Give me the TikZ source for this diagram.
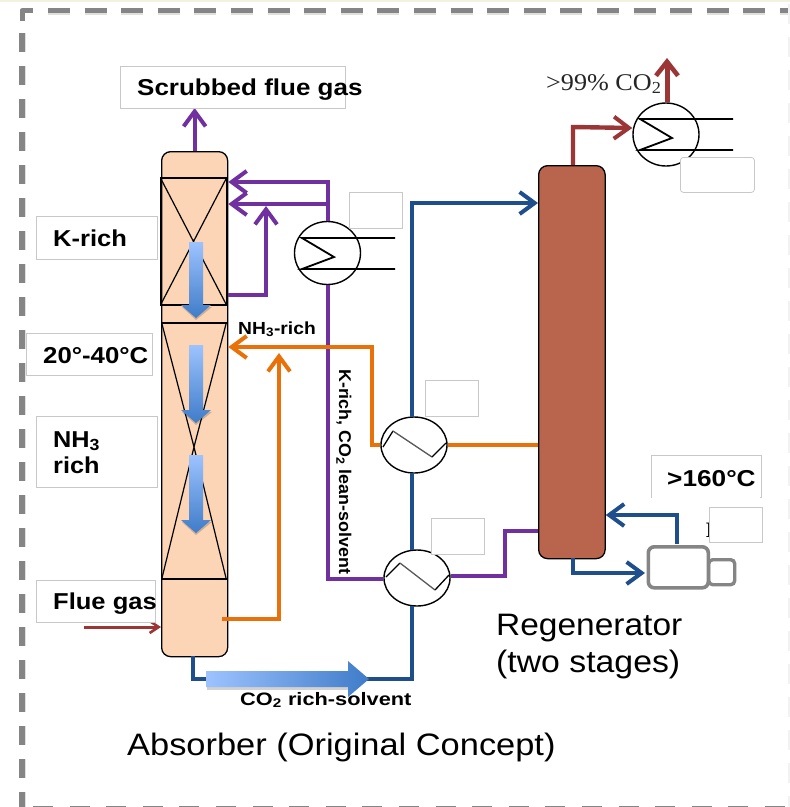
\documentclass[tikz,border=0pt]{standalone}
\usepackage{fontspec}
\setmainfont{Liberation Sans}
\newfontfamily\serifpart{Liberation Serif}
\usetikzlibrary{arrows.meta,shapes.geometric}
\definecolor{pur}{HTML}{7030A0}
\definecolor{ora}{HTML}{E8710A}
\definecolor{blu}{HTML}{1F4E8C}
\definecolor{brk}{HTML}{9C3535}
\definecolor{peach}{HTML}{FBD5B5}
\definecolor{rust}{HTML}{B9654D}
\definecolor{boxl}{HTML}{C8C8C8}
\definecolor{dashc}{HTML}{858585}
\definecolor{glight}{HTML}{9DC3FF}
\definecolor{gdark}{HTML}{3F7CC8}
\definecolor{topstrip}{HTML}{F1F2E0}
\tikzset{
 x=1pt,y=-1pt,
 barb/.style={-{Straight Barb[length=15pt,width=22pt,line width=4pt]}},
 pipe/.style={line width=#1,line join=miter},
 labelbox/.style={draw=boxl,fill=white,line width=.8pt,inner sep=0,anchor=north west},
 tower/.style={draw=black,line width=1.3pt,rounded corners=9pt,inner sep=0,anchor=north west},
 hx/.style={draw=black,fill=white,line width=1.4pt,ellipse,inner sep=0,minimum width=66pt,minimum height=#1},
 bold/.style={font=\bfseries\fontsize{23}{25}\selectfont,anchor=base west,inner sep=0},
 small/.style={font=\bfseries\fontsize{18}{20}\selectfont,inner sep=0},
 big/.style={font=\fontsize{31}{37}\selectfont,anchor=base west,inner sep=0},
 bordertop/.style={dashc,line width=5pt,dash pattern=on 22pt off 14.6pt},
 borderleft/.style={dashc,line width=6pt,dash pattern=on 19pt off 14pt},
 packing/.style={line width=1.2pt,draw=black},
}
\newcommand{\xs}[2]{\scalebox{#1}[1]{#2}}
\newcommand{\flowdown}[3]{%
 \fill[black,opacity=.18] (#1-14,#3-11) -- (#1,#3+2) -- (#1+16,#3-11) -- cycle;
 \shade[top color=glight,bottom color=gdark]
   (#1-7,#2) -- (#1+7,#2) -- (#1+7,#3-13) -- (#1+15,#3-13) -- (#1,#3) -- (#1-15,#3-13) -- (#1-7,#3-13) -- cycle;
}
\begin{document}
\begin{tikzpicture}
\useasboundingbox (0,0) rectangle (790,807);
\fill[white] (0,0) rectangle (790,807);
\fill[topstrip] (0,0) rectangle (790,2);
% border
\draw[black!12,line width=5pt,dash pattern=on 22pt off 14.6pt] (48,12.5) -- (790,12.5);
\draw[bordertop] (48,10) -- (790,10);
\draw[black!12,line width=6pt,dash pattern=on 19pt off 14pt] (23,33) -- (23,809);
\draw[borderleft] (22,33) -- (22,807);
\draw[dashc,line width=5pt,line join=round] (22,21) -- (22,10.5) -- (33,10.5);
\draw[dashc,line width=3pt,dash pattern=on 20pt off 16.6pt] (33,807) -- (790,807);
\draw[black!5,line width=2.5pt,dash pattern=on 20pt off 13pt] (789,4) -- (789,807);

% towers
\node[tower,fill=peach,minimum width=66pt,minimum height=505pt] (abs) at (161,151) {};
\node[tower,fill=rust,minimum width=66.5pt,minimum height=393pt] (reg) at (538,165) {};

% packing of absorber
\draw[packing] (160.5,178) rectangle (226.5,305);
\draw[packing] (160.5,178) -- (226.5,305) (226.5,178) -- (160.5,305);
\draw[packing] (161,323) -- (227,323) (161,579) -- (227,579);
\draw[packing] (162,324) -- (194,447) -- (162,578) (226,324) -- (194,447) -- (226,578);

% heat exchangers
\node[hx=63pt] (hxtop) at (327.5,253) {};
\node[hx=56pt] (hxmid) at (414,445) {};
\node[hx=56pt] (hxlow) at (417,578) {};
\node[hx=63pt] (cond) at (666,134.5) {};

% purple
\draw[pur,pipe=4pt,barb] (abs.north) -- ++(0,-43) coordinate (scrubtip);
\draw[pur,pipe=4pt,barb] (hxtop.north) -- (hxtop.north |- 0,182) -- (abs.east |- 0,182);
\draw[pur,pipe=4pt,barb] (hxtop.north |- 0,204) -- (abs.east |- 0,204);
\draw[pur,pipe=4pt,barb] (abs.east |- 0,295) -- (266,295) -- (266,206);
\draw[pur,pipe=4pt] (hxtop.south) -- (hxtop.south |- 0,579) -- (hxlow.west |- 0,579);
\draw[pur,pipe=4pt] (hxlow.east) ++(0,-2) -- (505,576) -- (505,531) -- (reg.west |- 0,531);

% orange
\draw[ora,pipe=4.6pt,barb] (222,619) -- (279,619) -- (279,353);
\draw[ora,pipe=4.6pt,barb] (hxmid.west) -- (372,445) -- (372,347) -- (abs.east |- 0,347);
\draw[ora,pipe=4.6pt] (hxmid.east) -- (reg.west |- hxmid.east);

% blue
\draw[blu,pipe=4.4pt] (193,656) -- (193,679) -- (412,679) -- (412,606);
\draw[blu,pipe=4.4pt] (412,550) -- (412,473);
\draw[blu,pipe=4.4pt,barb] (412,417) -- (412,203) -- (reg.west |- 0,203);
\draw[blu,pipe=4.4pt,barb] (573,558) -- (573,573) -- (645,573);
\draw[blu,pipe=4.4pt,barb] (677,544) -- (677,515) -- (reg.east |- 0,515);

% dark red
\draw[brk,pipe=4.4pt,barb] (573,165) -- (573,127) -- (cond.west |- 0,128);
\draw[brk,pipe=5pt,-{Straight Barb[length=14pt,width=22pt,line width=4.6pt]}] (cond.north) ++(1,0) -- (667,58);
\draw[brk,line width=3pt,-{Straight Barb[length=9pt,width=12pt,line width=2.6pt]}] (84,627) -- (abs.west |- 0,627);

% exchanger internals
\draw[line width=1.8pt] (733,119) -- (640,119) -- (672,138) -- (640,150) -- (733,150);
\draw[line width=1.8pt] (395,238) -- (302,238) -- (334,257) -- (302,269) -- (395,269);
\draw[line width=1.3pt,black] (383,447) -- (393,431);
\draw[line width=1.3pt,black!65] (393,431) -- (432,457);
\draw[line width=1.3pt,black] (432,457) -- (446,443);
\draw[line width=1.3pt,black] (386,577) -- (400,563);
\draw[line width=1.3pt,black!65] (400,563) -- (435,590);
\draw[line width=1.3pt,black] (435,590) -- (449,575);

% reboiler
\node[draw=dashc,fill=white,line width=3.4pt,rounded corners=4pt,minimum width=26pt,minimum height=25pt,inner sep=0,anchor=north west] (pumpb) at (707,558) {};
\node[draw=dashc,fill=white,line width=3.6pt,rounded corners=6pt,minimum width=60pt,minimum height=41pt,inner sep=0,anchor=north west] (pumpa) at (646.5,545) {};

% glyph remnant behind the box
\node[font=\serifpart\bfseries\fontsize{22}{22}\selectfont,inner sep=0] (rem) at (710,530) {I};

% label boxes
\node[labelbox,minimum width=225pt,minimum height=42pt] (bscrub) at (120,66) {};
\node[labelbox,minimum width=121pt,minimum height=43pt] (bk) at (36,216) {};
\node[labelbox,minimum width=126pt,minimum height=42pt] (btemp) at (26,333) {};
\node[labelbox,minimum width=121pt,minimum height=71pt] (bnh) at (36,416) {};
\node[labelbox,minimum width=119pt,minimum height=42pt] (bflue) at (36,580) {};
\node[labelbox,minimum width=53pt,minimum height=36pt] (e1) at (349,192) {};
\node[labelbox,minimum width=53pt,minimum height=36pt] (e2) at (425,380) {};
\node[labelbox,minimum width=53pt,minimum height=36pt] (e3) at (431,518) {};
\node[labelbox,minimum width=53pt,minimum height=35pt] (e4) at (708.5,507) {};
\node[labelbox,minimum width=110pt,minimum height=42pt] (bhot) at (651,455) {};
\fill[white] (652,496) rectangle (760,498);
\node[labelbox,rounded corners=3pt,minimum width=74pt,minimum height=35pt] (e5) at (680,157) {};

% blue flow arrows
\flowdown{196}{242}{318}
\flowdown{196}{345}{423}
\flowdown{196}{455}{533}
\fill[black,opacity=.18] (207,673) rectangle (352,690);
\shade[left color=glight,right color=gdark]
  (206,671) -- (348,671) -- (348,661) -- (369,679) -- (348,697) -- (348,687) -- (206,687) -- cycle;

% texts
\node[bold] (tscrub) at (137,95) {\xs{1.13}{Scrubbed flue gas}};
\node[bold] (tk) at (53,246) {\xs{1.11}{K-rich}};
\node[bold] (ttemp) at (43,363) {\xs{1.12}{20°-40°C}};
\node[bold] (tnh) at (53,447) {\xs{1.1}{NH\textsubscript{3}}};
\node[bold] (trich) at (53,473) {\xs{1.1}{rich}};
\node[bold] (tflue) at (53,609) {\xs{1.11}{Flue gas}};
\node[bold] (thot) at (667,486) {\xs{1.14}{>160°C}};
\node[small,anchor=base west,font=\bfseries\fontsize{17.5}{20}\selectfont] (tnhr) at (238,334) {\xs{1.1}{NH\textsubscript{3}-rich}};
\node[small,rotate=-90,anchor=base west,font=\bfseries\fontsize{17}{20}\selectfont] (tlean) at (339,369) {\xs{1.05}{K-rich, CO\textsubscript{2} lean-solvent}};
\node[small,anchor=base west] (trs) at (240,705) {\xs{1.21}{CO\textsubscript{2} rich-solvent}};
\node[big] (tabs) at (127,755) {\xs{1.11}{Absorber (Original Concept)}};
\node[big] (treg) at (496,635) {\xs{1.08}{Regenerator}};
\node[big] (ttwo) at (496,672) {\xs{1.09}{(two stages)}};
\node[font=\serifpart\fontsize{24}{24}\selectfont,anchor=base west,inner sep=0,text=black!85] (tco) at (546,90) {\xs{1.09}{>99\% CO\textsubscript{2}}};
\end{tikzpicture}
\end{document}
